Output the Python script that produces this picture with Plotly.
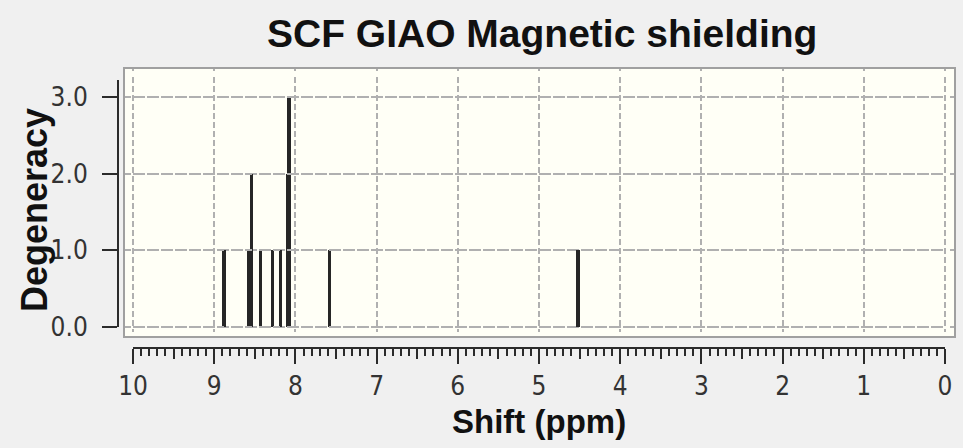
import plotly.graph_objects as go

# ---- data ----
shifts = [8.88, 8.57, 8.54, 8.43, 8.28, 8.18, 8.10, 8.08, 7.58, 4.52]
degeneracy = [1, 1, 2, 1, 1, 1, 2, 3, 1, 1]
x_ticks = [10, 9, 8, 7, 6, 5, 4, 3, 2, 1, 0]
x_half_ticks = [9.5, 8.5, 7.5, 6.5, 5.5, 4.5, 3.5, 2.5, 1.5, 0.5]
y_ticks = [0, 1, 2, 3]
title_text = "SCF GIAO Magnetic shielding"
x_title = "Shift (ppm)"
y_title = "Degeneracy"

W, H = 963, 448


def px_x(p):
    return p / W


def px_y(p):
    return 1 - p / H


BG = "#f0f0f0"
PLOT_BG = "#fffff6"
INK = "#2b2b2b"
GRID = "#b0b0b0"
NARROW = "Liberation Sans Narrow, DejaVu Sans Condensed, Arial Narrow, sans-serif"
BOLD = "Liberation Sans, Arial, Helvetica, sans-serif"

fig = go.Figure()

fig.add_trace(go.Bar(
    x=shifts, y=degeneracy, width=0.042,
    marker=dict(color="#262626", line=dict(width=0)),
    xaxis="x", yaxis="y", showlegend=False, hoverinfo="x+y",
))
# invisible traces to activate the ruler axes
fig.add_trace(go.Scatter(x=[5], y=[1], xaxis="x2", yaxis="y", mode="markers",
                         marker=dict(opacity=0), showlegend=False, hoverinfo="skip"))
fig.add_trace(go.Scatter(x=[5], y=[1], xaxis="x3", yaxis="y", mode="markers",
                         marker=dict(opacity=0), showlegend=False, hoverinfo="skip"))
fig.add_trace(go.Scatter(x=[5], y=[1], xaxis="x", yaxis="y2", mode="markers",
                         marker=dict(opacity=0), showlegend=False, hoverinfo="skip"))

x0_px, x10_px = 945.0, 133.0
ppm_px = (x0_px - x10_px) / 10.0
frame_l, frame_r, frame_t, frame_b = 124, 955, 68, 337
y0_px, y3_px = 327.0, 97.0
unit_px = (y0_px - y3_px) / 3.0

fig.update_layout(
    width=W, height=H,
    margin=dict(l=0, r=0, t=0, b=0, autoexpand=False),
    paper_bgcolor=BG, plot_bgcolor="rgba(0,0,0,0)",
    bargap=0, barmode="overlay",
    xaxis=dict(
        domain=[px_x(frame_l), px_x(frame_r)],
        range=[10 + (x10_px - frame_l) / ppm_px, 0 - (frame_r - x0_px) / ppm_px],
        tickvals=x_ticks, showticklabels=False, ticks="",
        showgrid=True, gridcolor=GRID, gridwidth=1.5, griddash="3px,6px",
        zeroline=False, showline=False, anchor="y", automargin=False,
    ),
    yaxis=dict(
        domain=[px_y(frame_b), px_y(frame_t)],
        range=[-(frame_b - y0_px) / unit_px, (y0_px - frame_t) / unit_px],
        tickvals=y_ticks, showticklabels=False, ticks="",
        showgrid=True, gridcolor=GRID, gridwidth=1.5, griddash="7px,7px",
        zeroline=False, showline=False, anchor="x", automargin=False,
    ),
    xaxis2=dict(
        domain=[px_x(x10_px), px_x(x0_px)], range=[10, 0],
        anchor="free", position=px_y(348),
        tickvals=x_ticks, ticktext=[str(v) for v in x_ticks],
        ticks="outside", ticklen=15, tickwidth=2, tickcolor=INK,
        minor=dict(dtick=0.1, ticks="outside", ticklen=7, tickwidth=1.5, tickcolor=INK, showgrid=False),
        showline=True, linecolor=INK, linewidth=2,
        showgrid=False, zeroline=False, automargin=False,
        tickfont=dict(family=NARROW, size=26, color="#333333"),
    ),
    xaxis3=dict(
        domain=[px_x(x10_px), px_x(x0_px)], range=[10, 0],
        anchor="free", position=px_y(348),
        tickvals=x_half_ticks, showticklabels=False,
        ticks="outside", ticklen=10, tickwidth=1.5, tickcolor=INK,
        showline=False, showgrid=False, zeroline=False, automargin=False,
    ),
    yaxis2=dict(
        domain=[px_y(y0_px), px_y(80)], range=[0, (y0_px - 80) / unit_px],
        anchor="free", position=px_x(118),
        tickvals=y_ticks, tickformat=".1f",
        ticks="outside", ticklen=15, tickwidth=2, tickcolor=INK,
        showline=True, linecolor=INK, linewidth=2,
        showgrid=False, zeroline=False, ticklabelstandoff=9, automargin=False,
        tickfont=dict(family=NARROW, size=26, color="#333333"),
    ),
    shapes=[
        dict(type="rect", xref="paper", yref="paper",
             x0=px_x(frame_l), x1=px_x(frame_r), y0=px_y(frame_b), y1=px_y(frame_t),
             fillcolor=PLOT_BG, line=dict(width=0), layer="below"),
        dict(type="rect", xref="paper", yref="paper",
             x0=px_x(frame_l), x1=px_x(frame_r), y0=px_y(frame_b), y1=px_y(frame_t),
             line=dict(color="#a0a0a0", width=2), layer="above"),
    ],
    annotations=[
        dict(text=f"<b>{title_text}</b>", xref="paper", yref="paper",
             x=px_x(541.5), y=px_y(34), xanchor="center", yanchor="middle",
             showarrow=False, font=dict(family=BOLD, size=39, color="#111111")),
        dict(text=f"<b>{x_title}</b>", xref="paper", yref="paper",
             x=px_x(538.5), y=px_y(421), xanchor="center", yanchor="middle",
             showarrow=False, font=dict(family=BOLD, size=33, color="#111111")),
        dict(text=f"<b>{y_title}</b>", xref="paper", yref="paper",
             x=px_x(34), y=px_y(210), xanchor="center", yanchor="middle",
             textangle=-90,
             showarrow=False, font=dict(family=BOLD, size=36, color="#111111")),
    ],
)

fig.write_html("out.html")
